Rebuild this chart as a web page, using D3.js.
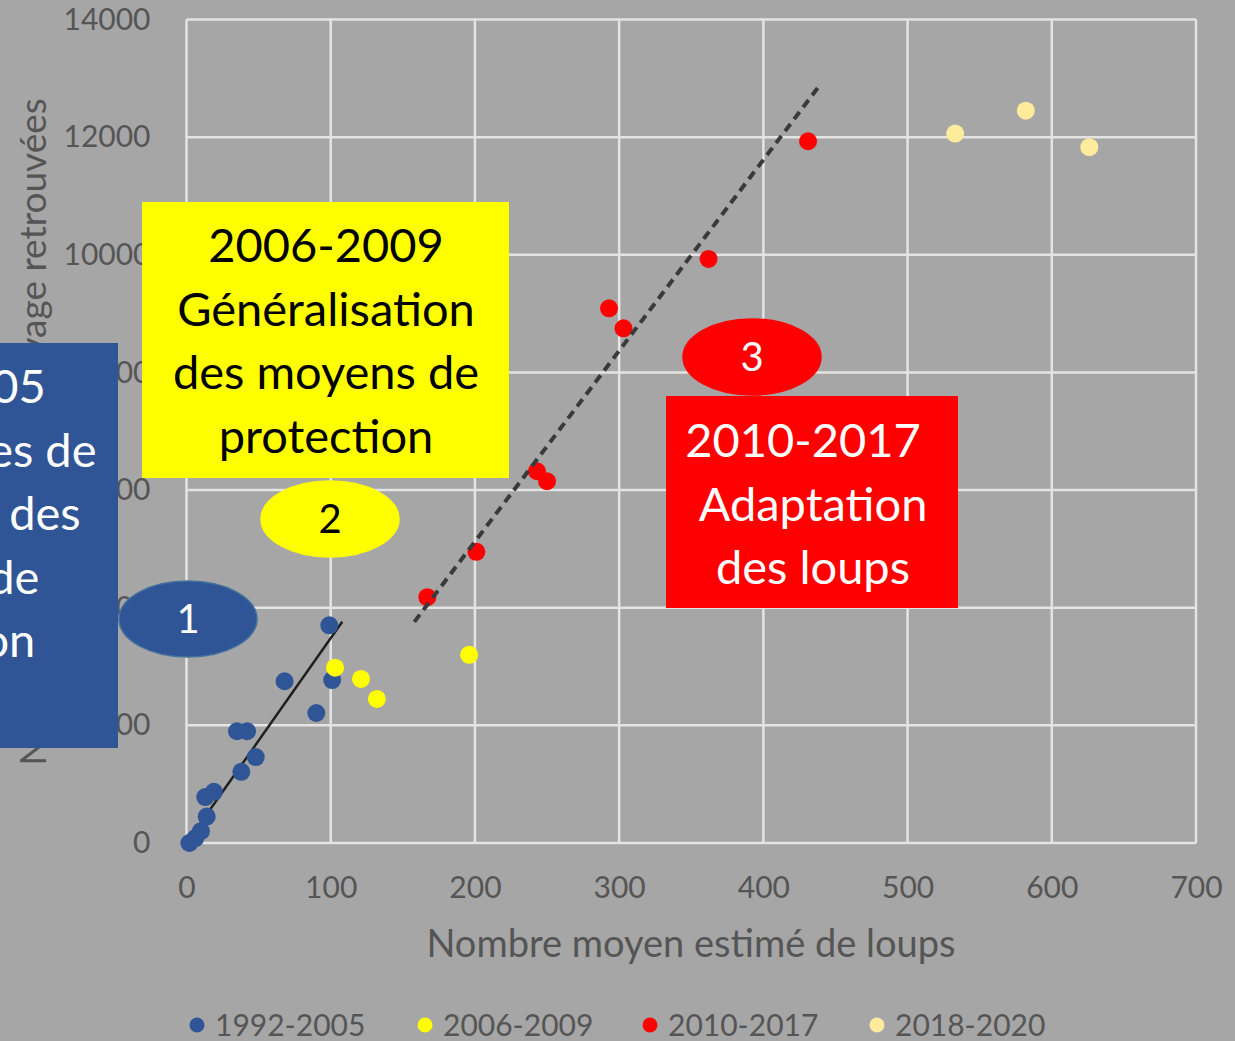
<!DOCTYPE html>
<html>
<head>
<meta charset="utf-8">
<script src="https://cdn.jsdelivr.net/npm/d3@7"></script>
<style>
  body { margin: 0; background: #a6a6a6; }
  svg { display: block; }
  .tick text { font-family: Lato, "Noto Sans", sans-serif; fill: #555555; }
</style>
</head>
<body>
<svg width="1235" height="1041"></svg>
<script>
// series: estimated wolves (x) vs victims found (y)
var seriesNames = ["1992-2005", "2006-2009", "2010-2017", "2018-2020"];
var seriesColors = ["#2f5597", "#ffff00", "#ff0000", "#ffeb9c"];

var wolves9205 = [2, 6, 10, 14, 13, 19, 38, 48, 35, 42, 68, 90, 101, 99];
var victims9205 = [0, 80, 200, 450, 780, 870, 1210, 1460, 1900, 1900, 2750, 2210, 2770, 3700];
var wolves0609 = [103, 121, 132, 196];
var victims0609 = [2980, 2790, 2450, 3200];
var wolves1017 = [167, 201, 243, 250, 293, 303, 362, 431];
var victims1017 = [4180, 4950, 6320, 6150, 9090, 8750, 9930, 11930];
var wolves1820 = [533, 582, 626];
var victims1820 = [12060, 12450, 11830];

// trend lines (end points)
var trendSolidX = [0, 108], trendSolidY = [0, 3760];
var trendDashX = [158, 439], trendDashY = [3760, 12880];

var xTicks = [0, 100, 200, 300, 400, 500, 600, 700];
var yTicks = [0, 2000, 4000, 6000, 8000, 10000, 12000, 14000];

var xTitle = "Nombre moyen estimé de loups";
var yTitle = "Nombre de victimes d'élevage retrouvées";

var boxBlueLines = ["1992-2005", "Faibles mesures de", "mise en place des", "moyens de", "protection"];
var boxYellowLines = ["2006-2009", "Généralisation", "des moyens de", "protection"];
var boxRedLines = ["2010-2017", "Adaptation", "des loups"];

Draw();

function Draw() {
    var svg = d3.select("svg");
    var font = "Lato, 'Noto Sans', sans-serif";

    var x = d3.scaleLinear().domain([0, 700]).range([186.5, 1196]);
    var y = d3.scaleLinear().domain([0, 14000]).range([843, 19.5]);

    svg.append("rect").attr("width", 1235).attr("height", 1041).attr("fill", "#a6a6a6");

    // grid
    var grid = svg.append("g").attr("stroke", "#e4e4e4").attr("stroke-width", 2.5);
    grid.selectAll(".vg").data(xTicks).enter().append("line")
        .attr("x1", d => x(d)).attr("x2", d => x(d))
        .attr("y1", y(0)).attr("y2", y(14000));
    grid.selectAll(".hg").data(yTicks).enter().append("line")
        .attr("y1", d => y(d)).attr("y2", d => y(d))
        .attr("x1", x(0)).attr("x2", x(700));

    // axes (labels only)
    svg.append("g")
        .attr("transform", "translate(0," + y(0) + ")")
        .call(d3.axisBottom(x).tickValues(xTicks).tickSize(0).tickPadding(34).tickFormat(d3.format("d")));
    svg.append("g")
        .attr("transform", "translate(" + x(0) + ",0)")
        .call(d3.axisLeft(y).tickValues(yTicks).tickSize(0).tickPadding(36).tickFormat(d3.format("d")));
    svg.selectAll(".domain").remove();
    svg.selectAll(".tick text").style("font-size", "30px");

    svg.append("text")
        .attr("x", 691).attr("y", 957)
        .attr("text-anchor", "middle")
        .style("font-family", font).style("font-size", "38px").attr("fill", "#555555")
        .text(xTitle);

    svg.append("text")
        .attr("transform", "translate(46,432) rotate(-90)")
        .attr("text-anchor", "middle")
        .style("font-family", font).style("font-size", "37px").attr("fill", "#555555")
        .text(yTitle);

    // trend lines
    var line = d3.line().x(d => x(d[0])).y(d => y(d[1]));
    svg.append("path")
        .datum(d3.zip(trendSolidX, trendSolidY))
        .attr("d", line).attr("stroke", "#1f1f1f").attr("stroke-width", 2.5).attr("fill", "none");

    // points
    var allSeries = [
        d3.zip(wolves9205, victims9205),
        d3.zip(wolves0609, victims0609),
        d3.zip(wolves1017, victims1017),
        d3.zip(wolves1820, victims1820)
    ];
    allSeries.forEach(function (pts, i) {
        svg.append("g").selectAll("circle")
            .data(pts)
            .enter().append("circle")
            .attr("cx", d => x(d[0]))
            .attr("cy", d => y(d[1]))
            .attr("r", 9)
            .attr("fill", seriesColors[i]);
    });

    svg.append("path")
        .datum(d3.zip(trendDashX, trendDashY))
        .attr("d", line).attr("stroke", "#3a3a3a").attr("stroke-width", 4)
        .attr("stroke-dasharray", "9,6").attr("fill", "none");

    // legend
    var legX = [197, 425, 650, 877];
    var leg = svg.append("g").selectAll("g").data(seriesNames).enter().append("g")
        .attr("transform", (d, i) => "translate(" + legX[i] + ",1025)");
    leg.append("circle").attr("r", 7.5).attr("fill", (d, i) => seriesColors[i]);
    leg.append("text").attr("x", 18).attr("dy", "0.36em")
        .style("font-family", font).style("font-size", "30px").attr("fill", "#555555")
        .text(d => d);

    // annotation boxes
    function box(x0, y0, w, h, fill, lines, color, cxs, firstBase) {
        svg.append("rect").attr("x", x0).attr("y", y0).attr("width", w).attr("height", h).attr("fill", fill);
        svg.append("g").selectAll("text").data(lines).enter().append("text")
            .attr("x", (d, i) => cxs[Math.min(i, cxs.length - 1)])
            .attr("y", (d, i) => firstBase + i * 63.5)
            .attr("text-anchor", "middle")
            .style("font-family", font).style("font-size", "47px").attr("fill", color)
            .text(d => d);
    }
    box(-300, 343, 418, 405, "#2f5597", boxBlueLines, "#ffffff", [-72, -97, -100, -72], 403);
    box(142, 202, 367, 276, "#ffff00", boxYellowLines, "#000000", [326], 262);
    box(666, 396, 292, 212, "#ff0000", boxRedLines, "#ffffff", [803, 813], 457);

    function bubble(cx, cy, fill, stroke, label, color) {
        svg.append("ellipse").attr("cx", cx).attr("cy", cy).attr("rx", 69).attr("ry", 38)
            .attr("fill", fill).attr("stroke", stroke).attr("stroke-width", 1.5);
        svg.append("text").attr("x", cx).attr("y", cy).attr("dy", "0.36em")
            .attr("text-anchor", "middle")
            .style("font-family", font).style("font-size", "40px").attr("fill", color)
            .text(label);
    }
    bubble(188, 619, "#2f5597", "#41719c", "1", "#ffffff");
    bubble(330, 519, "#ffff00", "#ffff00", "2", "#000000");
    bubble(752, 357, "#ff0000", "#ff0000", "3", "#ffffff");
}
</script>
</body>
</html>
